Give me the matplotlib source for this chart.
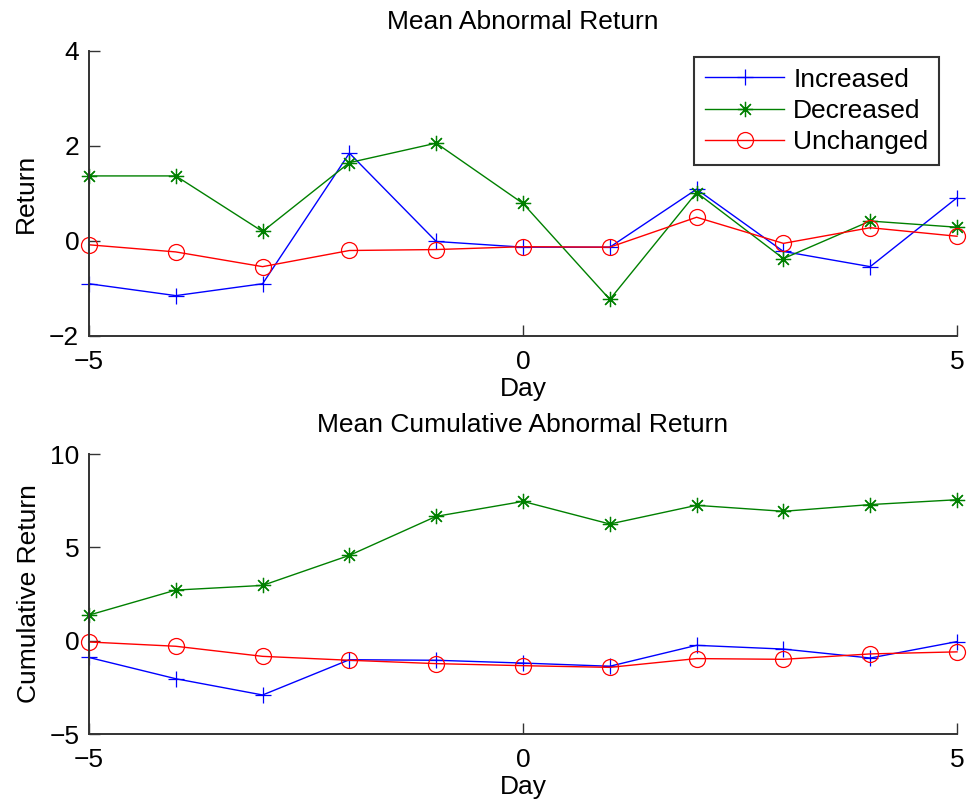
import matplotlib
matplotlib.use("Agg")
import matplotlib.pyplot as plt
import numpy as np

plt.rcParams['font.family'] = ['Liberation Sans', 'DejaVu Sans']

days = [-5, -4, -3, -2, -1, 0, 1, 2, 3, 4, 5]
labels = ["Increased", "Decreased", "Unchanged"]

ar_increased = [-0.90, -1.15, -0.90, 1.85, -0.01, -0.13, -0.13, 1.09, -0.22, -0.54, 0.91]
ar_decreased = [1.37, 1.37, 0.20, 1.65, 2.06, 0.79, -1.23, 1.02, -0.37, 0.42, 0.29]
ar_unchanged = [-0.08, -0.23, -0.54, -0.20, -0.18, -0.12, -0.13, 0.50, -0.05, 0.28, 0.10]

car_increased = [-0.90, -2.04, -2.91, -1.02, -1.05, -1.20, -1.37, -0.25, -0.45, -0.93, -0.05]
car_decreased = [1.37, 2.71, 2.96, 4.57, 6.66, 7.46, 6.25, 7.25, 6.93, 7.29, 7.55]
car_unchanged = [-0.07, -0.30, -0.84, -1.05, -1.23, -1.34, -1.43, -0.96, -1.00, -0.71, -0.60]

top_yticks = [-2, 0, 2, 4]
bot_yticks = [-5, 0, 5, 10]
xticks = [-5, 0, 5]

FS = 19
colors = [(0, 0, 1), (0, 0.5, 0), (1, 0, 0)]
markers = ['+', (8, 2, 0), 'o']
msizes = [12, 11, 11.5]

fig = plt.figure(figsize=(9.69, 8.06), dpi=100)
ax1 = fig.add_axes([89/969, 1-336/806, 868/969, 285/806])
ax2 = fig.add_axes([89/969, 1-734/806, 868/969, 280/806])


def style(ax, yticks):
    ax.set_xlim(-5, 5)
    ax.set_ylim(yticks[0], yticks[-1])
    ax.set_xticks(xticks)
    ax.set_yticks(yticks)
    for s in ['top', 'right']:
        ax.spines[s].set_visible(False)
    for s in ['left', 'bottom']:
        ax.spines[s].set_linewidth(1.4)
        ax.spines[s].set_color('#333333')
    ax.tick_params(direction='in', length=8, width=1, colors='#333333',
                   labelcolor='black', labelsize=FS)
    ax.tick_params(axis='x', pad=10)
    ax.tick_params(axis='y', pad=7)


series1 = [ar_increased, ar_decreased, ar_unchanged]
for vals, c, m, ms, lab in zip(series1, colors, markers, msizes, labels):
    ax1.plot(days, vals, color=c, marker=m, markersize=ms, markerfacecolor='none',
             markeredgecolor=c, markeredgewidth=0.9, linewidth=1.0, label=lab, clip_on=False)
style(ax1, top_yticks)
ax1.set_title("Mean Abnormal Return", fontsize=FS, pad=16)
ax1.set_xlabel("Day", fontsize=FS, labelpad=2)
ax1.set_ylabel("Return", fontsize=FS, labelpad=8)
leg = ax1.legend(loc='upper right', bbox_to_anchor=(939/969, 1-57/806), bbox_transform=fig.transFigure,
                 fontsize=FS, frameon=True, fancybox=False, handlelength=3.0,
                 borderpad=0.4, labelspacing=0.28, handletextpad=0.35, borderaxespad=0)
leg.get_frame().set_edgecolor('black')
leg.get_frame().set_linewidth(1.5)

series2 = [car_increased, car_decreased, car_unchanged]
for vals, c, m, ms, lab in zip(series2, colors, markers, msizes, labels):
    ax2.plot(days, vals, color=c, marker=m, markersize=ms, markerfacecolor='none',
             markeredgecolor=c, markeredgewidth=0.9, linewidth=1.0, label=lab, clip_on=False)
style(ax2, bot_yticks)
ax2.set_title("Mean Cumulative Abnormal Return", fontsize=FS, pad=16)
ax2.set_xlabel("Day", fontsize=FS, labelpad=2)
ax2.set_ylabel("Cumulative Return", fontsize=FS, labelpad=6)

fig.savefig("out.png", dpi=100)
